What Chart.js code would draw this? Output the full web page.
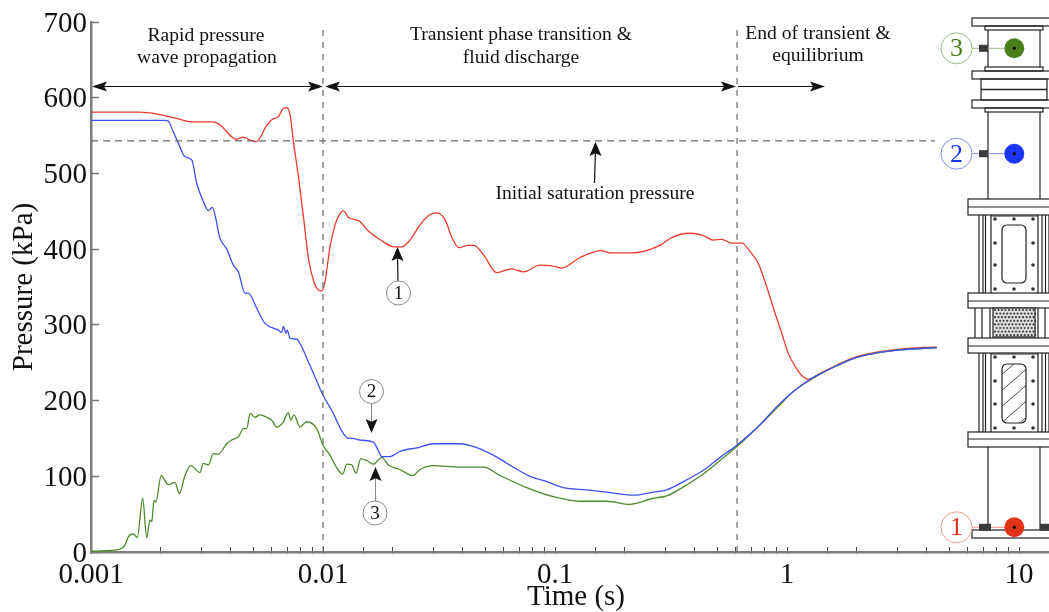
<!DOCTYPE html>
<html>
<head>
<meta charset="utf-8">
<title>Pressure vs time</title>
<script src="https://cdn.jsdelivr.net/npm/chart.js@4/dist/chart.umd.min.js"></script>
<style>
  html, body { margin: 0; padding: 0; background: #fff; }
  canvas { display: block; }
</style>
</head>
<body>
<canvas id="chart" width="1049" height="612"></canvas>
<script>
// values, time in s, pressure in kPa
const redTime = [.001,.001627,.001888,.002303,.002753,.003358,.0036,.004055,.00422,.004524,.00485,.005147,.005741,.006016,.00642,.00675,.00698,.007214,.007456,.007833,.008234,.00865,.00909,.009544,.00987,.0102,.01072,.01127,.01164,.01223,.01286,.01434,.01568,.01791,.02024,.02184,.02371,.02619,.02872,.0309,.03357,.03587,.03857,.0423,.04476,.0493,.05607,.06507,.0731,.08618,.0968,.1069,.1282,.159,.1726,.2141,.2835,.3131,.3516,.3819,.4357,.4812,.523,.5777,.6379,.6926,.7522,.8176,.8886,.9488,1.013,1.101,1.176,1.235,1.387,1.638,1.997,2.435,3.07,4.418];
const redPressure = [581,581,579,573,568,568,564,548,545,548,544,542,564,571,575,586,587,577,542,496,443,388,359,346,345,357,403,432,443,451,442,437,424,411,403,403,412,432,445,448,439,416,402,405,405,392,369,374,370,379,378,375,389,398,395,395,405,414,420,421,418,412,413,408,408,397,381,350,315,289,262,242,231,228,236,247,258,264,268,271];

const blueTime = [.001,.002085,.002154,.002263,.002379,.002542,.002717,.002855,.003048,.003203,.003333,.0036,.003845,.004105,.004315,.00461,.004764,.00518,.00535,.005623,.00642,.00664,.00675,.006926,.007016,.007214,.007704,.008094,.00865,.009236,.01,.01108,.01204,.01286,.01351,.0142,.01648,.01731,.01791,.01944,.02147,.02575,.02988,.03896,.04597,.0542,.0661,.078,.0921,.1086,.137,.167,.2175,.2653,.303,.3573,.4357,.5147,.607,.765,.903,1.0645,1.256,1.387,1.638,1.997,2.435,3.07,4.418];
const bluePressure = [570,570,569,555,540,522,518,487,463,451,455,414,400,379,370,342,342,322,313,302,293,290,298,289,293,282,281,271,251,231,207,183,160,150,150,148,145,134,126,126,133,138,143,143,138,128,112,100,93,85,82,79,75,79,82,93,108,125,141,168,192,212,228,235,246,257,263,267,270];

const greenTime = [.001,.00121,.001333,.001401,.001448,.001522,.001583,.00167,.001738,.001796,.001827,.001869,.001906,.002004,.002154,.002303,.002402,.002542,.00269,.00295,.003048,.003203,.003367,.003538,.003845,.00404,.004315,.00454,.00469,.00485,.00509,.00535,.00572,.006016,.006316,.00675,.007087,.007264,.0075,.007957,.008507,.00939,.01,.01072,.01127,.01216,.01265,.0133,.01387,.01454,.01543,.01648,.01791,.01912,.02147,.02435,.02619,.02988,.03896,.0493,.05793,.0755,.0983,.1282,.167,.2105,.2653,.303,.3573,.4357,.5147,.607,.765,.903,1.0645,1.256,1.387,1.638,1.997,2.435,3.07,4.418];
const greenPressure = [1,2,4,9,20,24,19,71,19,42,40,68,66,101,89,92,77,101,114,105,117,115,130,129,143,148,152,163,163,183,178,181,178,174,165,172,184,174,181,165,172,163,141,128,115,103,116,115,104,123,121,116,125,115,109,101,109,114,112,112,101,85,73,67,67,63,71,74,86,103,121,139,168,190,212,227,235,246,257,263,267,270];

// dashed guide lines
const saturationTime = [.001, 4.34];
const saturationPressure = [543, 543];
const phaseOneEnd = [.01, .01];
const phaseTwoEnd = [.609, .609];
const guidePressure = [0, 694];

const xTickLabels = ['0.001', '0.01', '0.1', '1', '10'];
const yTicks = [0, 100, 200, 300, 400, 500, 600, 700];

const serif = "'Liberation Serif', 'Times New Roman', serif";

function points(xs, ys) {
  return xs.map((x, i) => ({ x: x, y: ys[i] }));
}

function curve(label, xs, ys, color) {
  return { label: label, data: points(xs, ys), borderColor: color, borderWidth: 1.3, pointRadius: 0, cubicInterpolationMode: 'monotone', showLine: true };
}

function guide(label, xs, ys, dash) {
  return { label: label, data: points(xs, ys), borderColor: '#6a6a6a', borderWidth: 1.2, borderDash: dash, pointRadius: 0, showLine: true };
}

// arrow head with a notched back, tip at (x,y), pointing along (dx,dy)
function head(ctx, x, y, dx, dy, len, half) {
  const px = -dy, py = dx;
  ctx.beginPath();
  ctx.moveTo(x, y);
  ctx.lineTo(x - dx * len + px * half, y - dy * len + py * half);
  ctx.lineTo(x - dx * len * 0.8, y - dy * len * 0.8);
  ctx.lineTo(x - dx * len - px * half, y - dy * len - py * half);
  ctx.closePath();
  ctx.fill();
}

function line(ctx, x1, y1, x2, y2) {
  ctx.beginPath();
  ctx.moveTo(x1, y1);
  ctx.lineTo(x2, y2);
  ctx.stroke();
}

function box(ctx, x1, y1, x2, y2) {
  ctx.strokeRect(x1, y1, x2 - x1, y2 - y1);
}

function bubble(ctx, x, y, r, text, stroke, color, size) {
  ctx.strokeStyle = stroke;
  ctx.fillStyle = '#fff';
  ctx.lineWidth = 1;
  ctx.beginPath();
  ctx.arc(x, y, r, 0, Math.PI * 2);
  ctx.fill();
  ctx.stroke();
  ctx.fillStyle = color;
  ctx.font = size + 'px ' + serif;
  ctx.textAlign = 'center';
  ctx.textBaseline = 'middle';
  ctx.fillText(text, x, y + 1);
}

function drawNotes(ctx) {
  ctx.fillStyle = '#111';
  ctx.strokeStyle = '#111';
  ctx.lineWidth = 1.2;
  ctx.font = '19.6px ' + serif;
  ctx.textAlign = 'center';
  ctx.textBaseline = 'middle';
  ctx.fillText('Rapid pressure', 206, 36);
  ctx.fillText('wave propagation', 207, 58);
  ctx.fillText('Transient phase transition &', 521, 35);
  ctx.fillText('fluid discharge', 521, 58);
  ctx.fillText('End of transient &', 818, 34);
  ctx.fillText('equilibrium', 818, 56);
  ctx.fillText('Initial saturation pressure', 595, 194);

  line(ctx, 95, 86.5, 320, 86.5);
  head(ctx, 92, 86.5, -1, 0, 15, 5);
  head(ctx, 323, 86.5, 1, 0, 15, 5);
  line(ctx, 328, 86.5, 733, 86.5);
  head(ctx, 325, 86.5, -1, 0, 15, 5);
  head(ctx, 736, 86.5, 1, 0, 15, 5);
  line(ctx, 738, 86.5, 822, 86.5);
  head(ctx, 825, 86.5, 1, 0, 15, 5);

  line(ctx, 594.5, 183, 595.5, 150);
  head(ctx, 595.5, 142, 0, -1, 14, 6);

  line(ctx, 398, 281, 397.5, 255);
  head(ctx, 397.5, 247, 0, -1, 14, 6);
  bubble(ctx, 398.5, 293, 12, '1', '#8a8a8a', '#111', 19);

  line(ctx, 371.5, 403, 371.5, 425);
  head(ctx, 371.5, 433, 0, 1, 14, 6);
  bubble(ctx, 371.5, 391.5, 12, '2', '#8a8a8a', '#111', 19);

  line(ctx, 375.5, 501, 375.5, 475);
  head(ctx, 375.5, 467, 0, -1, 14, 6);
  bubble(ctx, 375, 513, 12, '3', '#8a8a8a', '#111', 19);
}

function bolts(ctx, top, mid1, mid2, bottom) {
  ctx.fillStyle = '#333';
  [[995, top], [1014, top], [1033, top], [995, mid1], [1033, mid1], [995, mid2], [1033, mid2], [995, bottom], [1014, bottom], [1033, bottom]].forEach(b => {
    ctx.beginPath();
    ctx.arc(b[0], b[1], 1.8, 0, Math.PI * 2);
    ctx.fill();
  });
}

function sidePosts(ctx, y1, y2) {
  [979, 983, 985.5, 991, 1038, 1042, 1045.5, 1049].forEach(x => line(ctx, x, y1, x, y2));
}

function sensor(ctx, y, color, pale, text, bothSides) {
  ctx.strokeStyle = pale;
  ctx.lineWidth = 1;
  line(ctx, 971, y, 1005, y);
  ctx.fillStyle = '#3a3a3a';
  ctx.fillRect(979, y - 3.5, 9, 7);
  if (bothSides) {
    ctx.fillRect(987, y - 3.5, 4, 7);
    ctx.fillRect(1040, y - 3.5, 9, 7);
  }
  ctx.fillStyle = color;
  ctx.beginPath();
  ctx.arc(1014.3, y, 10, 0, Math.PI * 2);
  ctx.fill();
  ctx.fillStyle = '#111';
  ctx.beginPath();
  ctx.arc(1014.3, y, 1.7, 0, Math.PI * 2);
  ctx.fill();
  bubble(ctx, 956.5, y, 15.5, text, pale, color, 26);
}

// test rig drawing on the right of the plot
function drawRig(ctx) {
  ctx.strokeStyle = '#222';
  ctx.lineWidth = 1.2;

  // top tube
  box(ctx, 972, 18, 1052, 26);
  box(ctx, 985, 26, 1043, 30);
  line(ctx, 988, 30, 988, 67);
  line(ctx, 1040, 30, 1040, 67);
  box(ctx, 985, 67, 1043, 71);
  box(ctx, 972, 71, 1052, 79);
  box(ctx, 981, 79, 1047, 100);
  ctx.lineWidth = 1.6;
  line(ctx, 981, 89.5, 1047, 89.5);
  ctx.lineWidth = 1.2;
  box(ctx, 972, 100, 1052, 108);
  box(ctx, 985, 108, 1043, 112);
  line(ctx, 988, 112, 988, 199);
  line(ctx, 1040, 112, 1040, 199);

  // upper window
  box(ctx, 968, 199, 1052, 215);
  line(ctx, 968, 207, 1049, 207);
  sidePosts(ctx, 215, 293);
  line(ctx, 991, 216, 1038, 216);
  ctx.beginPath();
  ctx.roundRect(1002, 225, 24, 58, 5);
  ctx.stroke();
  bolts(ctx, 219, 243, 265, 289);

  // perforated plate
  box(ctx, 968, 293, 1052, 308);
  line(ctx, 968, 301, 1049, 301);
  [975, 982, 990, 1038, 1045].forEach(x => line(ctx, x, 308, x, 338));
  ctx.fillStyle = '#ddd';
  ctx.fillRect(993, 308, 42, 29);
  box(ctx, 993, 308, 1035, 337);
  ctx.fillStyle = '#444';
  for (let r = 0; r < 8; r++) {
    for (let c = 0; c < 12; c++) {
      ctx.beginPath();
      ctx.arc(995 + c * 3.5 + (r % 2) * 1.7, 310 + r * 3.6, 1.1, 0, Math.PI * 2);
      ctx.fill();
    }
  }

  // lower window, hatched
  box(ctx, 968, 338, 1052, 353);
  line(ctx, 968, 346, 1049, 346);
  sidePosts(ctx, 353, 432);
  line(ctx, 991, 354, 1038, 354);
  ctx.save();
  ctx.beginPath();
  ctx.roundRect(1002, 364, 24, 59, 5);
  ctx.stroke();
  ctx.clip();
  ctx.lineWidth = 0.8;
  for (let i = 0; i < 6; i++) {
    line(ctx, 1000, 376 + i * 16, 1030, 350 + i * 16);
  }
  ctx.restore();
  bolts(ctx, 357, 381, 404, 428);

  // bottom tube
  box(ctx, 968, 432, 1052, 447);
  line(ctx, 968, 439, 1049, 439);
  line(ctx, 988, 447, 988, 530);
  line(ctx, 1040, 447, 1040, 530);
  box(ctx, 972, 530, 1052, 538);

  sensor(ctx, 48.3, '#4a7d1c', '#9dbb86', '3', false);
  sensor(ctx, 153.7, '#1b36f5', '#7f8cf5', '2', false);
  sensor(ctx, 527.3, '#e0331a', '#ee9a8a', '1', true);
}

const notes = {
  id: 'notes',
  // the axis title sits a bit right of the plot centre
  afterLayout(chart) {
    chart.scales.x.right += 12;
  },
  afterDraw(chart) {
    const ctx = chart.ctx;
    ctx.save();
    drawNotes(ctx);
    drawRig(ctx);
    ctx.restore();
  }
};

new Chart(document.getElementById('chart'), {
  type: 'scatter',
  data: {
    datasets: [
      guide('Initial saturation pressure', saturationTime, saturationPressure, [7, 5]),
      guide('End of wave propagation', phaseOneEnd, guidePressure, [6, 6]),
      guide('End of transient', phaseTwoEnd, guidePressure, [6, 6]),
      curve('2', blueTime, bluePressure, '#3f50f2'),
      curve('3', greenTime, greenPressure, '#4f8a2c'),
      curve('1', redTime, redPressure, '#ec3b2b')
    ]
  },
  options: {
    responsive: false,
    animation: false,
    layout: { padding: { top: 22, right: 0, bottom: 0, left: 0 } },
    plugins: { legend: { display: false }, tooltip: { enabled: false } },
    scales: {
      x: {
        type: 'logarithmic',
        min: 0.001,
        max: 13.46,
        afterFit(scale) {
          scale.height = 60;
          scale.paddingLeft = 0;
          scale.paddingRight = 0;
        },
        border: { color: '#7d7d7d', width: 2.5 },
        grid: { drawOnChartArea: false, tickLength: -5, tickColor: '#444', tickWidth: 1 },
        ticks: {
          autoSkip: false,
          maxRotation: 0,
          padding: 11,
          color: '#111',
          font: { family: serif, size: 29 },
          callback(value) {
            const exp = Math.log10(value);
            if (Math.abs(exp - Math.round(exp)) > 1e-6) return '';
            return xTickLabels[Math.round(exp) + 3] || '';
          }
        },
        title: { display: true, text: 'Time (s)', color: '#111', font: { family: serif, size: 29, lineHeight: 1 }, padding: 0 }
      },
      y: {
        min: 0,
        max: 700,
        afterFit(scale) {
          scale.width = 91;
          scale.paddingTop = 0;
          scale.paddingBottom = 0;
        },
        afterBuildTicks(scale) { scale.ticks = yTicks.map(v => ({ value: v })); },
        border: { color: '#7d7d7d', width: 2.5 },
        grid: { drawOnChartArea: false, tickLength: -8, tickColor: '#777', tickWidth: 1.5 },
        ticks: {
          padding: 12,
          labelOffset: 2,
          color: '#111',
          font: { family: serif, size: 29 }
        },
        title: { display: true, text: 'Pressure (kPa)', color: '#111', font: { family: serif, size: 29, lineHeight: 1 }, padding: { top: 10, bottom: 0 } }
      }
    }
  },
  plugins: [notes]
});
</script>
</body>
</html>
